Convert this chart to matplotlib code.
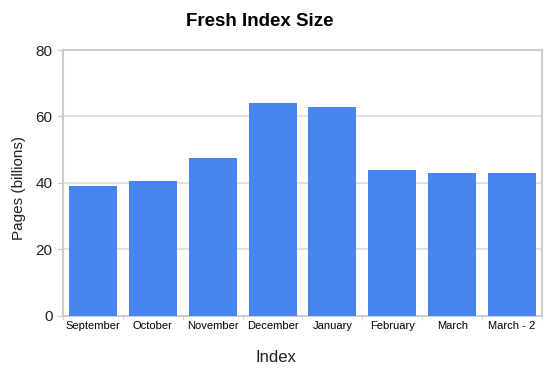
import numpy as np
import matplotlib.pyplot as plt

plt.rcParams['font.family'] = ['Liberation Sans', 'DejaVu Sans']

months = ['September', 'October', 'November', 'December', 'January',
          'February', 'March', 'March - 2']
pages = [39.2, 40.6, 47.5, 64.1, 62.7, 43.9, 43.0, 43.0]

fig = plt.figure(figsize=(5.52, 3.76), dpi=100)
ax = fig.add_axes([0.114, 0.160, 0.868, 0.707])

x = np.arange(len(months))
ax.bar(x, pages, width=0.8, color='#4684EE', zorder=3)

ax.set_xlim(-0.5, len(months) - 0.5)
ax.set_ylim(0, 80)
ax.set_yticks([0, 20, 40, 60, 80])
ax.yaxis.grid(True, color='#dddddd', linewidth=1.2, zorder=0)

ax.set_xticks(x)
ax.set_xticklabels(months, fontsize=8)
ax.set_xticks(np.arange(len(months) + 1) - 0.5, minor=True)
ax.tick_params(axis='x', which='major', length=0, pad=4)
ax.tick_params(axis='x', which='minor', length=3, color='#cccccc')
ax.tick_params(axis='y', length=4, color='#cccccc', labelsize=11, labelcolor='#222222')

for s in ax.spines.values():
    s.set_color('#cccccc')
    s.set_linewidth(1.5)

# labels are centred on the whole figure, not the plot area
fig.text(0.035, 0.5, 'Pages (billions)', fontsize=11, color='#222222',
         rotation=90, ha='center', va='center')
fig.text(0.5, 0.05, 'Index', fontsize=12, color='#222222', ha='center', va='center')
fig.text(0.47, 0.942, 'Fresh Index Size', fontsize=13.5, fontweight='bold',
         ha='center', va='center')

fig.savefig('out.png', dpi=100)
